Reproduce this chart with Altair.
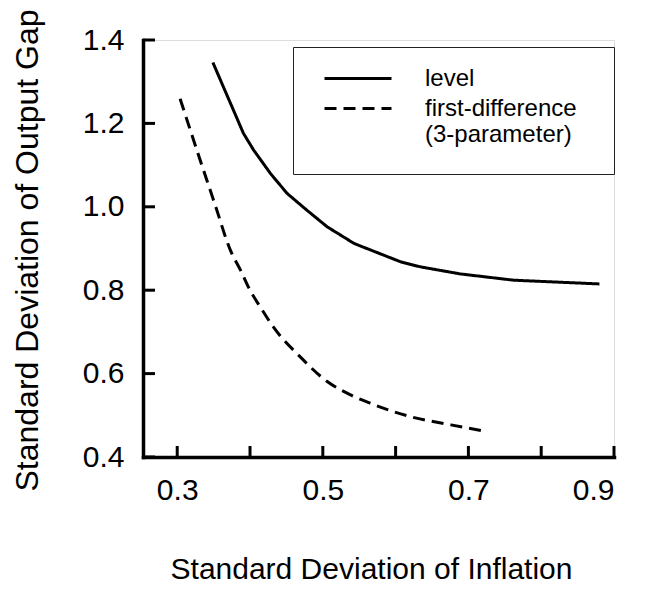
import altair as alt
import pandas as pd

# ---- data ----
series_names = ["level", "first-difference (3-parameter)"]

level_x = [0.349, 0.391, 0.405, 0.428, 0.451, 0.478, 0.506, 0.543, 0.607, 0.634, 0.689, 0.762, 0.880]
level_y = [1.346, 1.176, 1.136, 1.080, 1.032, 0.992, 0.952, 0.912, 0.868, 0.856, 0.839, 0.824, 0.815]

fd_x = [0.304, 0.330, 0.352, 0.373, 0.387, 0.400, 0.414, 0.432, 0.469, 0.506, 0.538, 0.565, 0.620, 0.676, 0.725]
fd_y = [1.259, 1.120, 1.005, 0.896, 0.848, 0.800, 0.760, 0.712, 0.640, 0.581, 0.549, 0.529, 0.497, 0.477, 0.461]

x_tick_values = [0.3, 0.4, 0.5, 0.6, 0.7, 0.8, 0.9]
x_label_values = [0.3, 0.5, 0.7, 0.9]
y_tick_values = [0.4, 0.6, 0.8, 1.0, 1.2, 1.4]

x_title = "Standard Deviation of Inflation"
y_title = "Standard Deviation of Output Gap"

# ---- layout ----
W, H = 471, 417
FONT = "Liberation Sans"

level_df = pd.DataFrame({"x": level_x, "y": level_y, "series": series_names[0]})
fd_df = pd.DataFrame({"x": fd_x, "y": fd_y, "series": series_names[1]})
xt_df = pd.DataFrame({"x": x_tick_values})
yt_df = pd.DataFrame({"y": y_tick_values})

xs = alt.Scale(domain=[0.253, 0.9], nice=False, zero=False)
ys = alt.Scale(domain=[0.4, 1.4], nice=False, zero=False)
dash_scale = alt.Scale(domain=series_names, range=[[1, 0], [12, 7]])

legend = alt.Legend(
    title=["\u00a0", "\u00a0", "\u00a0"], titleOrient="right", titleFontSize=10,
    titleLineHeight=40, titlePadding=19, titleBaseline="top",
    orient="none", legendX=150, legendY=7, padding=18, clipHeight=27,
    strokeColor="#222222", symbolType="stroke", symbolSize=4489,
    symbolStrokeWidth=3, symbolStrokeColor="black", symbolOffset=12,
    labelFont=FONT, labelFontSize=24, labelColor="black",
    labelExpr="split(datum.label, ' ')", rowPadding=3, labelOffset=32,
    labelLimit=400,
)

x_axis = alt.Axis(
    values=x_label_values, format=".1f", ticks=False, grid=False,
    domainWidth=3.5, domainColor="black", domainCap="square",
    labelFont=FONT, labelFontSize=30, labelColor="black", labelPadding=18,
    title=x_title, titleFont=FONT, titleFontSize=30, titleFontWeight="normal",
    titleColor="black", titleX=228, titleY=121, titleBaseline="alphabetic",
)
y_axis = alt.Axis(
    values=y_tick_values, format=".1f", ticks=False, grid=False,
    domainWidth=3.5, domainColor="black", domainCap="square",
    labelFont=FONT, labelFontSize=30, labelColor="black", labelPadding=19,
    title=y_title, titleFont=FONT, titleFontSize=32, titleFontWeight="normal",
    titleColor="black", titleX=-106, titleY=210, titleBaseline="alphabetic",
    titleAngle=270,
)

level_line = alt.Chart(level_df).mark_line(color="black", strokeWidth=3, interpolate="linear").encode(
    x=alt.X("x:Q", scale=xs, axis=x_axis),
    y=alt.Y("y:Q", scale=ys, axis=y_axis),
    strokeDash=alt.StrokeDash("series:N", scale=dash_scale, legend=legend),
)
fd_line = alt.Chart(fd_df).mark_line(color="black", strokeWidth=3, interpolate="monotone").encode(
    x=alt.X("x:Q", scale=xs, axis=x_axis),
    y=alt.Y("y:Q", scale=ys, axis=y_axis),
    strokeDash=alt.StrokeDash("series:N", scale=dash_scale, legend=legend),
)

x_ticks = alt.Chart(xt_df).mark_rule(color="black", strokeWidth=3).encode(
    x=alt.X("x:Q", scale=xs, axis=x_axis),
    y=alt.value(H), y2=alt.value(H - 11),
)
y_ticks = alt.Chart(yt_df).mark_rule(color="black", strokeWidth=3).encode(
    y=alt.Y("y:Q", scale=ys, axis=y_axis),
    x=alt.value(0), x2=alt.value(12),
)

chart = alt.layer(level_line, fd_line, x_ticks, y_ticks).properties(
    width=W, height=H,
    padding={"left": 135, "top": 32, "right": 24, "bottom": 128},
    autosize=alt.AutoSizeParams(type="none"),
).configure_view(stroke=None).configure(background="white")

chart.save("out.html", embed_options={"renderer": "svg", "actions": False})
